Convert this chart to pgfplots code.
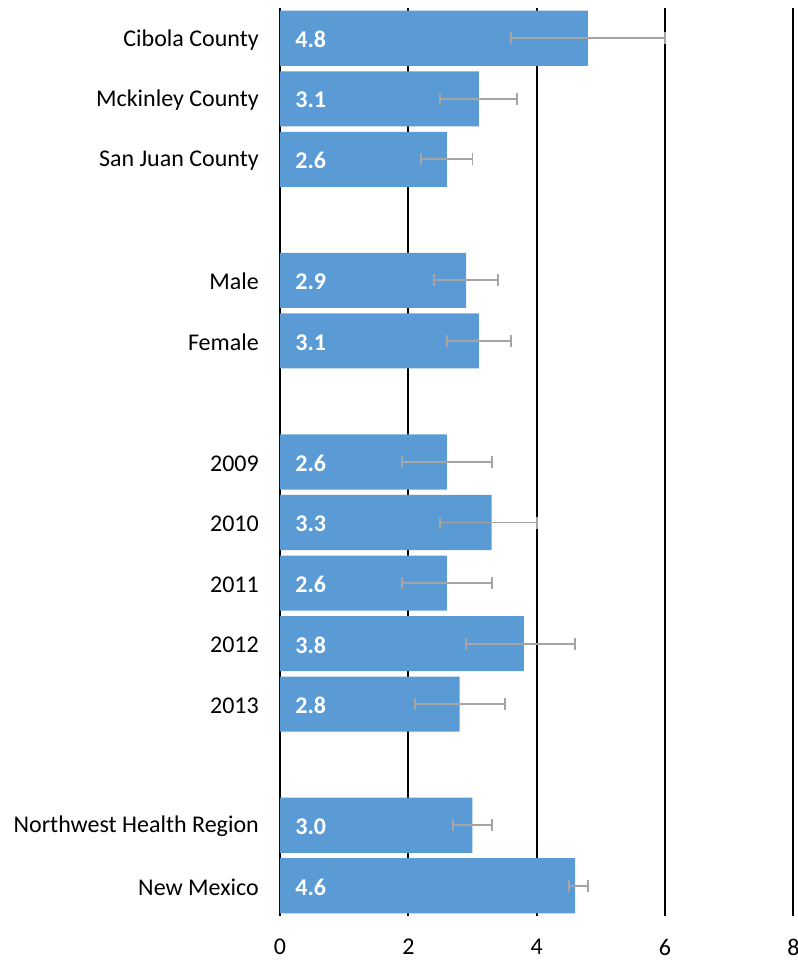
\documentclass[border=0pt]{standalone}
\usepackage{pgfplots}
\pgfplotsset{compat=1.18}
\usepackage{pgfplotstable}
\usepackage{fontspec}
\setmainfont{Carlito}
\definecolor{barblue}{HTML}{5B9BD5}
\definecolor{errgray}{HTML}{A5A5A5}
\pgfplotstableread{
pos val em ep lab
0 4.8 1.2 1.2 4.8
1 3.1 0.6 0.6 3.1
2 2.6 0.4 0.4 2.6
4 2.9 0.5 0.5 2.9
5 3.1 0.5 0.5 3.1
7 2.6 0.7 0.7 2.6
8 3.3 0.8 0.7 3.3
9 2.6 0.7 0.7 2.6
10 3.8 0.9 0.8 3.8
11 2.8 0.7 0.7 2.8
13 3.0 0.3 0.3 3.0
14 4.6 0.1 0.2 4.6
}\datatable
\begin{document}
\begin{tikzpicture}
\useasboundingbox (0,0) rectangle (598.5pt,720.75pt);
\begin{axis}[
  at={(210pt,33.75pt)}, anchor=south west,
  scale only axis,
  width=385pt, height=681pt,
  xmin=0, xmax=8, ymin=-0.5, ymax=14.5,
  y dir=reverse,
  xtick={0,2,4,6,8},
  ytick={0,1,2,4,5,7,8,9,10,11,13,14},
  yticklabels={Cibola County,Mckinley County,San Juan County,Male,Female,2009,2010,2011,2012,2013,Northwest Health Region,New Mexico},
  xmajorgrids,
  grid style={black, line width=1.3pt},
  axis line style={draw=none},
  tick style={draw=none},
  ticklabel style={font=\fontsize{18pt}{21pt}\selectfont},
  /pgf/number format/assume math mode=true,
  yticklabel style={xshift=-12.4pt, yshift=-1pt},
  xticklabel style={yshift=-14pt},
  clip=false,
]
\addplot[xbar, bar width=0.91, fill=barblue, draw=none,
  error bars/.cd, x dir=both, x explicit,
  error bar style={errgray, line width=1.4pt},
  error mark options={errgray, line width=1.4pt, mark size=4.5pt, rotate=90}]
  table[x=val, y=pos, x error plus=ep, x error minus=em] {\datatable};
\addplot[draw=none, mark=none, nodes near coords, point meta=explicit symbolic,
  every node near coord/.style={anchor=west, xshift=8pt, yshift=-1pt, text=white, font=\fontsize{18pt}{21pt}\selectfont\bfseries}]
  table[x expr=0, y=pos, meta=lab] {\datatable};
\end{axis}
\end{tikzpicture}
\end{document}
